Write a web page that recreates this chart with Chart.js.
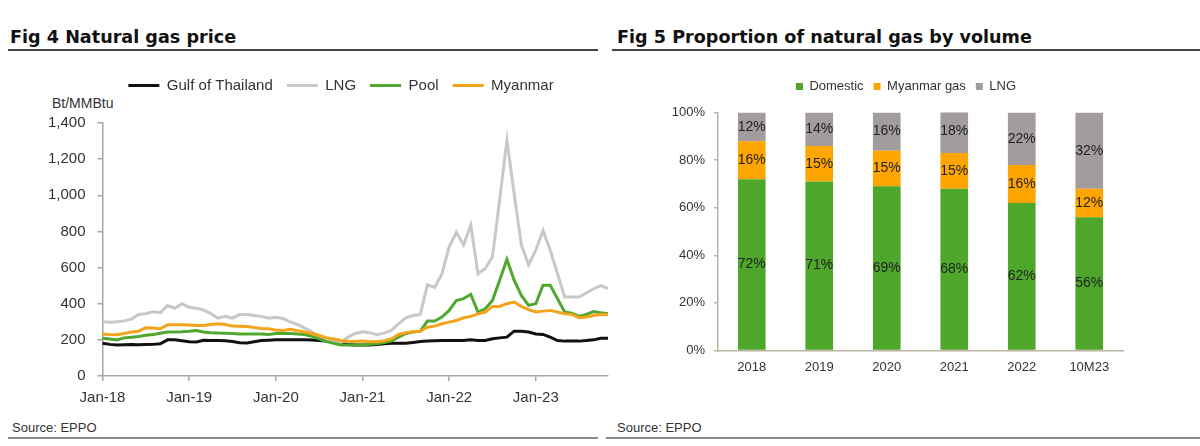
<!DOCTYPE html>
<html>
<head>
<meta charset="utf-8">
<script src="https://cdn.jsdelivr.net/npm/chart.js@4.4.0/dist/chart.umd.min.js"></script>
<style>
  body { margin: 0; width: 1200px; height: 446px; background: #fff; position: relative; overflow: hidden;
         font-family: "Liberation Sans", Arial, sans-serif; color: #333; }
  .title { position: absolute; top: 27px; font: bold 17.6px "DejaVu Sans", sans-serif; color: #111; }
  .rule { position: absolute; top: 49px; height: 2px; background: #444; }
  .source { position: absolute; top: 420px; font-size: 13px; color: #333; }
  .foot { position: absolute; top: 437px; height: 2px; background: #8a8a8a; }
  #unit { position: absolute; left: 52px; top: 95px; font-size: 14px; color: #333; }
  #price { position: absolute; left: 0; top: 60px; }
  #share { position: absolute; left: 600px; top: 60px; }
</style>
</head>
<body>
<div class="title" style="left:10px">Fig 4 Natural gas price</div>
<div class="rule" style="left:8px; width:590px"></div>
<div class="title" style="left:617px">Fig 5 Proportion of natural gas by volume</div>
<div class="rule" style="left:612px; width:588px"></div>

<div id="unit">Bt/MMBtu</div>
<canvas id="price" width="612" height="355"></canvas>
<canvas id="share" width="600" height="316"></canvas>

<div class="source" style="left:12px">Source: EPPO</div>
<div class="foot" style="left:8px; width:590px"></div>
<div class="source" style="left:617px">Source: EPPO</div>
<div class="foot" style="left:606px; width:594px"></div>

<script>
// FIG 4 DATA (monthly, Jan-18 .. Nov-23)
const months = [
  'Jan-18','Feb-18','Mar-18','Apr-18','May-18','Jun-18','Jul-18','Aug-18','Sep-18','Oct-18','Nov-18','Dec-18',
  'Jan-19','Feb-19','Mar-19','Apr-19','May-19','Jun-19','Jul-19','Aug-19','Sep-19','Oct-19','Nov-19','Dec-19',
  'Jan-20','Feb-20','Mar-20','Apr-20','May-20','Jun-20','Jul-20','Aug-20','Sep-20','Oct-20','Nov-20','Dec-20',
  'Jan-21','Feb-21','Mar-21','Apr-21','May-21','Jun-21','Jul-21','Aug-21','Sep-21','Oct-21','Nov-21','Dec-21',
  'Jan-22','Feb-22','Mar-22','Apr-22','May-22','Jun-22','Jul-22','Aug-22','Sep-22','Oct-22','Nov-22','Dec-22',
  'Jan-23','Feb-23','Mar-23','Apr-23','May-23','Jun-23','Jul-23','Aug-23','Sep-23','Oct-23','Nov-23'
];
const gulf = [
  181, 175, 172, 173, 174, 173, 174, 175, 178, 200, 200, 195,
  190, 188, 198, 197, 196, 195, 191, 184, 183, 190, 196, 198,
  200, 200, 200, 200, 200, 199, 196, 193, 187, 178, 174, 172,
  172, 172, 174, 178, 181, 181, 181, 186, 191, 193, 195, 196,
  196, 196, 197, 200, 196, 196, 206, 211, 215, 248, 248, 243,
  233, 230, 215, 196, 193, 193, 193, 196, 200, 209, 209
];
const lng = [
  300, 298, 300, 305, 315, 340, 345, 355, 350, 390, 375, 400,
  380, 375, 365, 345, 320, 330, 320, 340, 340, 335, 330, 320,
  325, 318, 300, 285, 265, 245, 220, 200, 190, 185, 215, 235,
  245, 240, 228, 237, 252, 289, 322, 335, 340, 505, 490, 565,
  715, 795, 725, 835, 565, 595, 660, 975, 1305, 1010, 725, 615,
  696, 805, 696, 567, 437, 437, 437, 459, 483, 500, 483
];
const pool = [
  209, 205, 200, 211, 215, 219, 225, 230, 237, 243, 243, 245,
  248, 252, 243, 240, 238, 237, 235, 233, 233, 233, 232, 230,
  235, 237, 235, 232, 230, 219, 205, 190, 181, 172, 172, 172,
  172, 175, 178, 185, 193, 215, 235, 243, 248, 304, 304, 326,
  363, 418, 428, 452, 354, 372, 418, 530, 646, 530, 446, 391,
  400, 502, 502, 428, 354, 348, 330, 341, 357, 350, 344
];
const myanmar = [
  233, 230, 228, 235, 243, 248, 267, 265, 261, 283, 283, 283,
  282, 280, 280, 285, 289, 285, 276, 275, 274, 268, 263, 261,
  255, 252, 259, 250, 243, 235, 224, 212, 205, 196, 192, 191,
  193, 190, 190, 195, 205, 230, 240, 245, 248, 270, 276, 289,
  298, 307, 322, 330, 344, 354, 385, 385, 400, 409, 385, 367,
  354, 359, 363, 354, 344, 341, 322, 326, 335, 341, 341
];

// FIG 5 DATA (% of volume)
const years = ['2018', '2019', '2020', '2021', '2022', '10M23'];
const domestic = [72, 71, 69, 68, 62, 56];
const myanmarGas = [16, 15, 15, 15, 16, 12];
const lngShare = [12, 14, 16, 18, 22, 32];

const axisGrey = '#a6a6a6';
const textColor = '#333';

// nudge the legend sideways so it sits where the original one does
function legendShift(dx) {
  return {
    id: 'legendShift',
    afterLayout(chart) {
      chart.legend.left += dx;
      chart.legend.right += dx;
    }
  };
}

// PRICE LINE CHART
function lineSet(label, data, color, order) {
  return {
    label: label, data: data, borderColor: color, backgroundColor: color,
    borderWidth: 3, pointRadius: 0, tension: 0, order: order
  };
}

new Chart(document.getElementById('price'), {
  type: 'line',
  data: {
    labels: months,
    datasets: [
      lineSet('Gulf of Thailand', gulf, '#111111', 3),
      lineSet('LNG', lng, '#c8c8c8', 2),
      lineSet('Pool', pool, '#4ea72e', 1),
      lineSet('Myanmar', myanmar, '#f5a31a', 0)
    ]
  },
  plugins: [legendShift(37)],
  options: {
    responsive: false,
    animation: false,
    layout: { padding: { left: 0, right: 4, top: 4, bottom: 0 } },
    plugins: {
      legend: {
        labels: {
          boxWidth: 31,
          boxHeight: 3,
          padding: 14,
          color: textColor,
          font: { size: 15, family: 'Liberation Sans' },
          sort: (a, b) => a.datasetIndex - b.datasetIndex,
          generateLabels: chart => Chart.defaults.plugins.legend.labels.generateLabels(chart)
            .map(l => Object.assign(l, { fillStyle: l.strokeStyle, lineWidth: 0 }))
        }
      },
      // empty title used as a spacer under the legend
      title: { display: true, text: '', weight: 500, font: { size: 10 }, padding: { top: 8, bottom: 0 } },
      tooltip: { enabled: false }
    },
    scales: {
      x: {
        afterBuildTicks: scale => { scale.ticks = scale.ticks.filter(t => t.value % 12 === 0); },
        grid: { drawOnChartArea: false, tickLength: 5, color: axisGrey, lineWidth: 1.5 },
        border: { color: axisGrey, width: 1.5 },
        ticks: {
          autoSkip: false, maxRotation: 0, padding: 8, color: textColor,
          font: { size: 15, family: 'Liberation Sans' }
        }
      },
      y: {
        min: 0,
        max: 1400,
        afterFit: scale => { scale.width = 102.5; },
        grid: { drawOnChartArea: false, tickLength: 5, color: axisGrey, lineWidth: 1.5 },
        border: { color: axisGrey, width: 1.5 },
        ticks: {
          stepSize: 200, padding: 12, color: textColor,
          font: { size: 15, family: 'Liberation Sans' }
        }
      }
    }
  }
});

// STACKED BAR VALUE LABELS
const barLabels = {
  id: 'barLabels',
  afterDatasetsDraw(chart) {
    const ctx = chart.ctx;
    ctx.save();
    ctx.font = '14px "Liberation Sans"';
    ctx.fillStyle = '#222';
    ctx.textAlign = 'center';
    ctx.textBaseline = 'middle';
    chart.data.datasets.forEach((ds, i) => {
      chart.getDatasetMeta(i).data.forEach((bar, j) => {
        const p = bar.getProps(['x', 'y', 'base'], true);
        ctx.fillText(ds.data[j] + '%', p.x, (p.y + p.base) / 2);
      });
    });
    ctx.restore();
  }
};

const tanAxis = '#bdb3a2';

new Chart(document.getElementById('share'), {
  type: 'bar',
  data: {
    labels: years,
    datasets: [
      { label: 'Domestic', data: domestic, backgroundColor: '#4ea72a' },
      { label: 'Myanmar gas', data: myanmarGas, backgroundColor: '#ffa500' },
      { label: 'LNG', data: lngShare, backgroundColor: '#a39c9e' }
    ]
  },
  plugins: [barLabels, legendShift(44.5)],
  options: {
    responsive: false,
    animation: false,
    barPercentage: 0.41,
    categoryPercentage: 1,
    layout: { padding: { left: 0, right: 77, top: 10, bottom: 0 } },
    plugins: {
      legend: {
        labels: {
          boxWidth: 7, boxHeight: 7, padding: 10, color: textColor,
          font: { size: 13, family: 'Liberation Sans' }
        }
      },
      title: { display: true, text: '', weight: 500, font: { size: 8 }, padding: 0 },
      tooltip: { enabled: false }
    },
    scales: {
      x: {
        stacked: true,
        grid: { display: false },
        border: { color: tanAxis, width: 1.5 },
        ticks: { padding: 1, color: textColor, font: { size: 13, family: 'Liberation Sans' } }
      },
      y: {
        stacked: true,
        min: 0,
        max: 100,
        afterFit: scale => { scale.width = 118; },
        grid: { drawOnChartArea: false, tickLength: 4, color: tanAxis, lineWidth: 1.5 },
        border: { color: tanAxis, width: 1.5 },
        ticks: {
          stepSize: 20, padding: 9, color: textColor,
          font: { size: 13, family: 'Liberation Sans' },
          callback: v => v + '%'
        }
      }
    }
  }
});
</script>
</body>
</html>
